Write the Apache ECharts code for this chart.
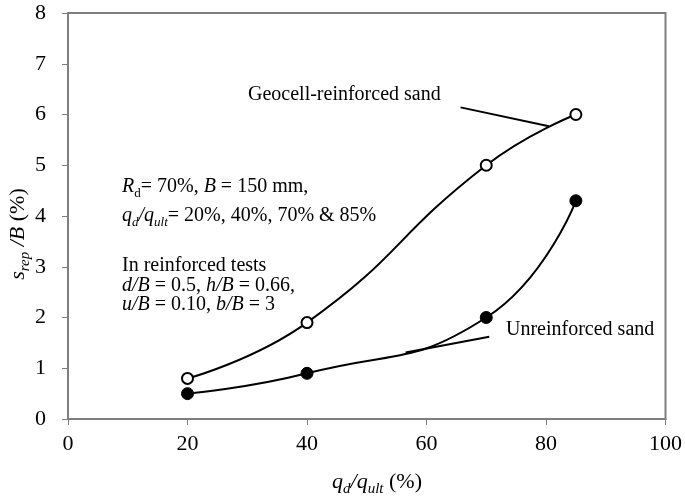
<!DOCTYPE html>
<html><head><meta charset="utf-8">
<script src="https://cdn.jsdelivr.net/npm/echarts@6/dist/echarts.min.js"></script>
<style>html,body{margin:0;padding:0;background:#fff}#c{width:685px;height:496px}</style>
</head><body><div id="c"></div>
<script>
var loadRatio = [20, 40, 70, 85];
var geocell = [0.8, 1.9, 5.0, 6.0];
var unreinforced = [0.5, 0.9, 2.0, 4.3];
var xTicks = [0, 20, 40, 60, 80, 100];
var yTicks = [0, 1, 2, 3, 4, 5, 6, 7, 8];
var geoLeader = [[65.7, 6.14], [80.5, 5.77]];
var unrLeader = [[70.5, 1.62], [56.5, 1.31]];

var F = '"Liberation Serif", "Times New Roman", serif';
var chart = echarts.init(document.getElementById('c'));
function pairs(xs, ys){ return xs.map(function(x,i){return [x, ys[i]];}); }
var rich = {
  n: {fontFamily: F, fontSize: 20, fill: '#000'},
  i: {fontFamily: F, fontSize: 20, fontStyle: 'italic', fill: '#000'},
  s: {fontFamily: F, fontSize: 13, fill: '#000', padding: [14,0,0,0]},
  si: {fontFamily: F, fontSize: 13, fontStyle: 'italic', fill: '#000', padding: [14,0,0,0]}
};
var richBig = {
  n: {fontFamily: F, fontSize: 22, fill: '#000'},
  i: {fontFamily: F, fontSize: 22, fontStyle: 'italic', fill: '#000'},
  si: {fontFamily: F, fontSize: 15, fontStyle: 'italic', fill: '#000', padding: [14,0,0,0]}
};
function txt(x, y, text, r, extra){
  var o = {type: 'text', x: x, y: y, z: 100, style: {text: text, rich: r || rich, align: 'left', verticalAlign: 'middle', fontFamily: F, fontSize: 20, fill: '#000'}};
  if (extra) for (var k in extra) o[k] = extra[k];
  return o;
}
chart.setOption({
  animation: false,
  backgroundColor: '#fff',
  grid: {left: 68, right: 19, top: 13, bottom: 77, show: true, borderColor: '#7f7f7f', borderWidth: 2},
  xAxis: {
    type: 'value', min: xTicks[0], max: xTicks[xTicks.length-1], interval: 20,
    axisLine: {show: true, lineStyle: {color: '#7f7f7f', width: 2}},
    axisTick: {show: true, length: 6, lineStyle: {color: '#7f7f7f', width: 1}},
    axisLabel: {fontFamily: F, fontSize: 22, color: '#000', margin: 14},
    splitLine: {show: false}
  },
  yAxis: {
    type: 'value', min: yTicks[0], max: yTicks[yTicks.length-1], interval: 1,
    axisLine: {show: true, lineStyle: {color: '#7f7f7f', width: 2}},
    axisTick: {show: true, length: 6, lineStyle: {color: '#7f7f7f', width: 1}},
    axisLabel: {fontFamily: F, fontSize: 22, color: '#000', margin: 22},
    splitLine: {show: false}
  },
  series: [
    {
      type: 'line', name: 'Geocell-reinforced sand', data: pairs(loadRatio, geocell), smooth: 0.5,
      symbol: 'circle', symbolSize: 11,
      lineStyle: {color: '#000', width: 2},
      itemStyle: {color: '#fff', borderColor: '#000', borderWidth: 2},
      markLine: {silent: true, symbol: 'none', label: {show: false},
        lineStyle: {color: '#000', width: 2, type: 'solid'},
        data: [[{coord: geoLeader[0]}, {coord: geoLeader[1]}]]}
    },
    {
      type: 'line', name: 'Unreinforced sand', data: pairs(loadRatio, unreinforced), smooth: 0.5,
      symbol: 'circle', symbolSize: 12,
      lineStyle: {color: '#000', width: 2},
      itemStyle: {color: '#000', borderColor: '#000', borderWidth: 1},
      markLine: {silent: true, symbol: 'none', label: {show: false},
        lineStyle: {color: '#000', width: 2, type: 'solid'},
        data: [[{coord: unrLeader[0]}, {coord: unrLeader[1]}]]}
    }
  ],
  graphic: [
    txt(248, 95, '{n|Geocell-reinforced sand}'),
    txt(506, 330, '{n|Unreinforced sand}'),
    txt(122, 187, '{i|R}{s|d}{n|= 70%, }{i|B}{n| = 150 mm,}'),
    txt(122, 216, '{i|q}{si|d}{i|/q}{si|ult}{n|= 20%, 40%, 70% & 85%}'),
    txt(122, 266, '{n|In reinforced tests}'),
    txt(122, 286, '{i|d/B}{n| = 0.5, }{i|h/B}{n| = 0.66,}'),
    txt(122, 305, '{i|u/B}{n| = 0.10, }{i|b/B}{n| = 3}'),
    txt(377, 482, '', richBig, {style: {text: '{i|q}{si|d}{i|/q}{si|ult}{n| (%)}', rich: richBig, align: 'center', verticalAlign: 'middle'}}),
    txt(18, 234, '', richBig, {rotation: Math.PI/2, style: {text: '{i|s}{si|rep}{i| /B}{n| (%)}', rich: richBig, align: 'center', verticalAlign: 'middle'}})
  ]
});
</script>
</body></html>
